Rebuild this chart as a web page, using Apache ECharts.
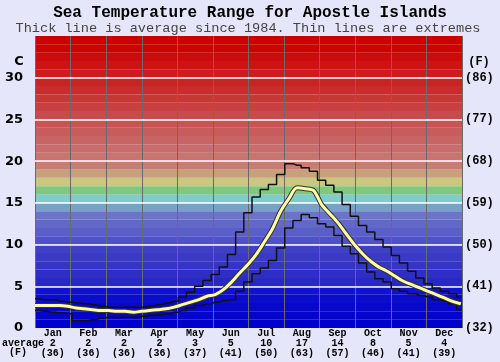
<!DOCTYPE html>
<html>
<head>
<meta charset="utf-8">
<script src="https://cdn.jsdelivr.net/npm/echarts@6/dist/echarts.min.js"></script>
<style>
html,body{margin:0;padding:0;background:#e6e6fa;}
#chart{width:500px;height:362px;}
</style>
</head>
<body>
<div id="chart"></div>
<script>
// ---------- data ----------
const months = ['Jan','Feb','Mar','Apr','May','Jun','Jul','Aug','Sep','Oct','Nov','Dec'];
const monthAvgC = [2,2,2,2,3,5,10,17,14,8,5,4];
const monthAvgF = [36,36,36,36,37,41,50,63,57,46,41,39];
const tickC = [0,5,10,15,20,25,30];
const tickF = ['(32)','(41)','(50)','(59)','(68)','(77)','(86)'];
const days = [0,7,14,21,28,35,42,49,56,63,70,77,84,91,98,105,112,119,126,133,140,147,154,161,168,175,182,189,196,203,210,217,224,231,238,245,252,259,266,273,280,287,294,301,308,315,322,329,336,343,350,357,364];
const avgC = [2.7,2.7,2.7,2.7,2.6,2.4,2.3,2.2,2.1,2.1,2.0,2.0,1.9,2.0,2.1,2.2,2.3,2.5,2.8,3.1,3.4,3.8,4.0,4.6,5.5,6.6,7.6,8.8,10.3,11.9,14.0,15.5,16.8,16.7,16.5,14.8,13.7,12.6,11.3,10.0,8.9,8.0,7.3,6.8,6.2,5.6,5.2,4.8,4.4,4.0,3.6,3.2,2.9];
const maxC = [3.5,3.4,3.4,3.2,3.1,3.0,2.9,2.8,2.6,2.5,2.5,2.5,2.5,2.5,2.6,2.8,3.0,3.2,3.7,4.3,5.0,5.7,6.4,7.3,8.8,11.5,13.8,15.7,16.6,17.2,18.4,19.7,19.5,19.2,18.8,17.7,17.1,16.3,14.8,13.4,12.3,11.5,10.6,9.7,8.7,7.8,6.8,6.0,5.3,4.8,4.4,4.1,3.7];
const minC = [2.1,2.0,1.9,1.8,1.7,0.9,0.9,1.0,1.2,1.3,1.3,1.3,1.3,1.4,1.5,1.6,1.7,1.9,2.1,2.4,2.7,2.9,3.1,3.3,3.4,4.4,5.5,6.5,7.2,8.1,9.6,12.0,12.9,13.6,13.2,12.5,12.1,11.1,9.8,8.9,7.8,6.7,5.9,5.5,4.7,4.4,4.1,3.9,3.7,3.4,3.2,2.9,2.2];

// ---------- styles ----------
const bandColors = [
 '#0000cc','#0404cc','#0808cc','#0c0ccc','#1212cc',
 '#2828c6','#2e2ec6','#3434c6','#3a3ac6','#4040c6',
 '#5050c8','#5a5ec8','#6268c8','#6a74c8','#78a0c8',
 '#80cccc','#80c880','#c8c880','#c8a07a','#c87c72',
 '#c87470','#c86c6c','#c86464','#c85c5c','#c85454',
 '#c84a4a','#c84040','#c83636','#c82c2c','#c82424',
 '#cc1c1c','#cc1414','#cc0c0c','#cc0404','#cc0000'
];
const mono = 'Liberation Mono';

const pair = (arr) => days.map((d,i)=>[d, arr[i]]);
const bandData = bandColors.map((c,i)=>[{yAxis:i, itemStyle:{color:c}},{yAxis:i+1}]);
const whiteLines = tickC.filter(v=>v>0).map(v=>({yAxis:v}));

const chart = echarts.init(document.getElementById('chart'), null, {renderer:'canvas'});
chart.setOption({
  backgroundColor:'#e6e6fa',
  animation:false,
  grid:{left:35, right:38, top:36, bottom:34},
  xAxis:[
    {type:'category', data:months, boundaryGap:true, z:3,
     axisLine:{show:false}, axisTick:{show:false},
     splitLine:{show:true, lineStyle:{color:'#6a6a6a', width:1}},
     axisLabel:{margin:1, interval:0, fontFamily:mono, fontWeight:'bold', fontSize:10, color:'#000', lineHeight:9.6,
       formatter:(v, i)=> v + '\n' + monthAvgC[i] + '\n(' + monthAvgF[i] + ')'}},
    {type:'value', min:0, max:365, show:false}
  ],
  yAxis:[
    {type:'value', min:0, max:35, interval:5, z:3,
     axisLine:{show:false}, axisTick:{show:false}, splitLine:{show:false},
     axisLabel:{margin:12, fontFamily:'DejaVu Sans', fontWeight:'bold', fontSize:13, color:'#000',
       formatter:(v)=> tickC.indexOf(v) >= 0 ? String(v) : ''}},
    {type:'value', min:0, max:35, interval:5, position:'right', z:3,
     axisLine:{show:false}, axisTick:{show:false}, splitLine:{show:false},
     axisLabel:{margin:3, fontFamily:mono, fontWeight:'bold', fontSize:12, color:'#000',
       formatter:(v)=> { const k = tickC.indexOf(v); return k >= 0 ? tickF[k] : ''; }}}
  ],
  graphic:[
    {type:'text', x:250, y:13, style:{text:'Sea Temperature Range for Apostle Islands', font:'bold 16px "Liberation Mono"', fill:'#000', textAlign:'center', textVerticalAlign:'middle'}},
    {type:'text', x:248, y:28, style:{text:'Thick line is average since 1984. Thin lines are extremes', font:'13.6px "Liberation Mono"', fill:'#444', textAlign:'center', textVerticalAlign:'middle'}},
    {type:'text', x:19, y:62, style:{text:'C', font:'bold 13px "DejaVu Sans"', fill:'#000', textAlign:'center', textVerticalAlign:'middle'}},
    {type:'text', x:479, y:62, style:{text:'(F)', font:'bold 12px "Liberation Mono"', fill:'#000', textAlign:'center', textVerticalAlign:'middle'}},
    {type:'text', x:2, y:343, style:{text:'average', font:'bold 10px "Liberation Mono"', fill:'#000', textAlign:'left', textVerticalAlign:'middle'}},
    {type:'text', x:18, y:352.5, style:{text:'(F)', font:'bold 10px "Liberation Mono"', fill:'#000', textAlign:'center', textVerticalAlign:'middle'}}
  ],
  series:[
    {type:'line', xAxisIndex:1, yAxisIndex:0, data:[], z:1, silent:true,
     markArea:{silent:true, data:bandData}},
    {type:'line', xAxisIndex:1, yAxisIndex:0, data:[], z:2, silent:true,
     markLine:{silent:true, symbol:['none','none'], label:{show:false}, lineStyle:{color:'#ffffff', width:1.5, type:'solid'}, data:whiteLines}},
    {name:'max', type:'line', xAxisIndex:1, yAxisIndex:0, data:pair(maxC), step:'middle', showSymbol:false, z:5,
     lineStyle:{color:'#111', width:1.5}},
    {name:'min', type:'line', xAxisIndex:1, yAxisIndex:0, data:pair(minC), step:'middle', showSymbol:false, z:5,
     lineStyle:{color:'#111', width:1.5}},
    {name:'avgOutline', type:'line', xAxisIndex:1, yAxisIndex:0, data:pair(avgC), smooth:0.3, showSymbol:false, z:6,
     lineStyle:{color:'#333', width:5}},
    {name:'avg', type:'line', xAxisIndex:1, yAxisIndex:0, data:pair(avgC), smooth:0.3, showSymbol:false, z:7,
     lineStyle:{color:'#ffffa8', width:3}}
  ]
});
</script>
</body>
</html>
